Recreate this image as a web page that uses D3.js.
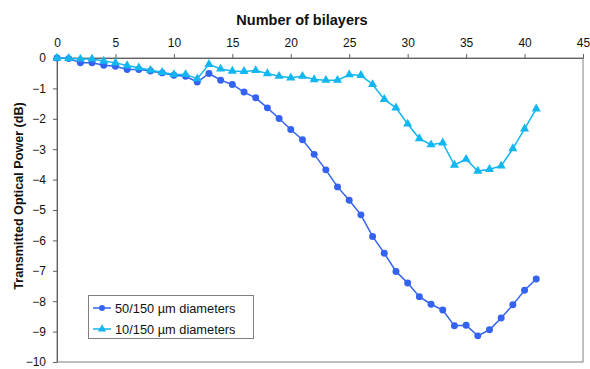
<!DOCTYPE html>
<html>
<head>
<meta charset="utf-8">
<script src="https://cdn.jsdelivr.net/npm/d3@7"></script>
<style>
  html, body { margin: 0; padding: 0; background: #fff; }
  svg { display: block; font-family: "Liberation Sans", Arial, sans-serif; }
</style>
</head>
<body>
<svg id="chart" width="590" height="369"></svg>
<script>
// Transmitted optical power versus number of deposited bilayers
const bilayers = d3.range(0, 42);
const power50 = [0, -0.02, -0.16, -0.16, -0.24, -0.27, -0.38, -0.38, -0.43, -0.49,
  -0.57, -0.6, -0.79, -0.51, -0.73, -0.87, -1.12, -1.31, -1.64, -1.99,
  -2.35, -2.69, -3.17, -3.68, -4.24, -4.68, -5.16, -5.87, -6.42, -7.02,
  -7.4, -7.85, -8.1, -8.29, -8.81, -8.79, -9.14, -8.94, -8.55, -8.12,
  -7.64, -7.27];
const power10 = [0, -0.01, -0.03, -0.03, -0.1, -0.16, -0.25, -0.32, -0.4, -0.47,
  -0.54, -0.54, -0.68, -0.21, -0.36, -0.43, -0.44, -0.41, -0.51, -0.6,
  -0.65, -0.6, -0.71, -0.73, -0.73, -0.55, -0.57, -0.87, -1.36, -1.64,
  -2.17, -2.65, -2.85, -2.79, -3.52, -3.33, -3.72, -3.66, -3.55, -2.98,
  -2.33, -1.67];
const seriesNames = ["50/150 µm diameters", "10/150 µm diameters"];
const xTicks = d3.range(0, 46, 5);
const yTicks = d3.range(0, -11, -1);

const colors = ["#3463f2", "#12b6f0"];

const svg = d3.select("#chart");
const plotL = 57, plotR = 583, plotT = 58, plotB = 362;

const x = d3.scaleLinear().domain([0, 45]).range([plotL, plotR]);
const y = d3.scaleLinear().domain([0, -10]).range([plotT, plotB]);

// plot frame
svg.append("rect")
  .attr("x", plotL).attr("y", plotT)
  .attr("width", plotR - plotL).attr("height", plotB - plotT)
  .attr("fill", "none").attr("stroke", "#808080").attr("stroke-width", 1);

// top x axis
const xAxis = svg.append("g")
  .attr("transform", `translate(0,${plotT})`)
  .call(d3.axisTop(x).tickValues(xTicks).tickSize(4).tickSizeOuter(0).tickPadding(7));
// left y axis
const yAxis = svg.append("g")
  .attr("transform", `translate(${plotL},0)`)
  .call(d3.axisLeft(y).tickValues(yTicks).tickSize(4).tickSizeOuter(0).tickPadding(7));

[xAxis, yAxis].forEach(g => {
  g.select(".domain").attr("stroke", "#606060");
  g.selectAll(".tick line").attr("stroke", "#606060");
  g.selectAll(".tick text").attr("fill", "#111").style("font-size", "12px")
    .style("font-family", "'Liberation Sans', Arial, sans-serif");
});

// axis titles
svg.append("text")
  .attr("x", 302).attr("y", 25)
  .attr("text-anchor", "middle")
  .style("font-size", "14.5px").style("font-weight", "bold").attr("fill", "#111")
  .text("Number of bilayers");

svg.append("text")
  .attr("transform", `translate(22.5,196) rotate(-90)`)
  .attr("text-anchor", "middle")
  .style("font-size", "12.6px").style("font-weight", "bold").attr("fill", "#111")
  .text("Transmitted Optical Power (dB)");

// series
const line = d3.line().x(d => x(d[0])).y(d => y(d[1]));
const data50 = bilayers.map((b, i) => [b, power50[i]]);
const data10 = bilayers.map((b, i) => [b, power10[i]]);

const circleSym = d3.symbol().type(d3.symbolCircle).size(38);
const triSym = d3.symbol().type(d3.symbolTriangle).size(36);

function drawSeries(data, color, sym) {
  const g = svg.append("g");
  g.append("path").datum(data)
    .attr("d", line).attr("fill", "none")
    .attr("stroke", color).attr("stroke-width", 1.5);
  g.selectAll("path.m").data(data).join("path")
    .attr("class", "m")
    .attr("d", sym)
    .attr("transform", d => `translate(${x(d[0])},${y(d[1])})`)
    .attr("fill", color);
}
drawSeries(data50, colors[0], circleSym);
drawSeries(data10, colors[1], triSym);

// legend
const lg = svg.append("g");
lg.append("rect")
  .attr("x", 88.5).attr("y", 295.5).attr("width", 165).attr("height", 43)
  .attr("fill", "#fff").attr("stroke", "#808080").attr("stroke-width", 1);
seriesNames.forEach((name, i) => {
  const cy = 308 + i * 21;
  lg.append("line")
    .attr("x1", 93).attr("x2", 111).attr("y1", cy).attr("y2", cy)
    .attr("stroke", colors[i]).attr("stroke-width", 1.5);
  lg.append("path").attr("d", d3.symbol().type(i === 0 ? d3.symbolCircle : d3.symbolTriangle).size(i === 0 ? 28 : 30))
    .attr("transform", `translate(102,${cy})`).attr("fill", colors[i]);
  lg.append("text")
    .attr("x", 115).attr("y", cy + 4.5)
    .style("font-size", "12.8px").attr("fill", "#111")
    .text(name);
});
</script>
</body>
</html>
